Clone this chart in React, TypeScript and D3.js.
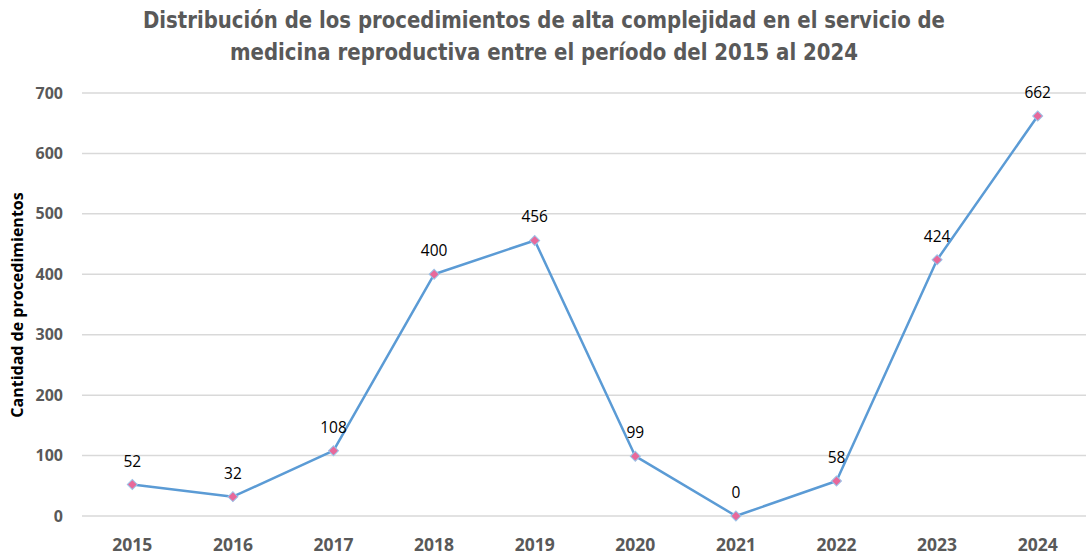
import React from "react";
import * as d3 from "d3";

const years = ["2015", "2016", "2017", "2018", "2019", "2020", "2021", "2022", "2023", "2024"];
const values = [52, 32, 108, 400, 456, 99, 0, 58, 424, 662];
const yTicks = [0, 100, 200, 300, 400, 500, 600, 700];
const titleLines = [
  "Distribución de los procedimientos de alta complejidad en el servicio de",
  "medicina reproductiva entre el período del 2015 al 2024",
];
const yAxisTitle = "Cantidad de procedimientos";

const W = 1086;
const H = 558;
const left = 82;
const right = 1088;
const top = 93;
const bottom = 516;

export default function App() {
  const x = d3.scaleBand<string>().domain(years).range([left, right]);
  const y = d3.scaleLinear().domain([0, 700]).range([bottom, top]);
  const cx = (d: string) => (x(d) as number) + x.bandwidth() / 2;
  const line = d3
    .line<number>()
    .x((_, i) => cx(years[i]))
    .y((v) => y(v));
  const marker = d3.symbol().type(d3.symbolSquare).size(50)();
  const font = "'Liberation Sans Narrow', 'DejaVu Sans Condensed', Arial, sans-serif";
  const font2 = "'Open Sans', 'DejaVu Sans', sans-serif";

  return (
    <svg
      width={W}
      height={H}
      style={{ position: "absolute", left: 0, top: 0, background: "#fff" }}
    >
      <rect width={W} height={H} fill="#fff" />
      {titleLines.map((t, i) => (
        <text
          key={i}
          x={544}
          y={28 + i * 32}
          textAnchor="middle"
          fontFamily={font}
          fontWeight="bold"
          fontSize={23}
          fill="#595959"
          textLength={i === 0 ? 802 : 628}
          lengthAdjust="spacingAndGlyphs"
        >
          {t}
        </text>
      ))}
      {yTicks.map((t) => (
        <g key={t}>
          <line x1={left} x2={W} y1={y(t)} y2={y(t)} stroke="#d9d9d9" strokeWidth={1.5} />
          <text
            x={63}
            y={y(t) + 5.5}
            textAnchor="end"
            fontFamily={font2}
            fontWeight="bold"
            fontSize={16}
            fill="#595959"
          >
            {t}
          </text>
        </g>
      ))}
      {years.map((yr) => (
        <text
          key={yr}
          x={cx(yr)}
          y={551}
          textAnchor="middle"
          fontFamily={font2}
          fontWeight="bold"
          fontSize={17.5}
          fill="#595959"
        >
          {yr}
        </text>
      ))}
      <text
        transform={`translate(23,305) rotate(-90)`}
        textAnchor="middle"
        fontFamily={font2}
        fontWeight="bold"
        fontSize={16}
        fill="#000"
      >
        {yAxisTitle}
      </text>
      <path d={line(values) || ""} fill="none" stroke="#5b9bd5" strokeWidth={2.5} strokeLinejoin="round" />
      {values.map((v, i) => (
        <g key={i}>
          <path
            d={marker || ""}
            transform={`translate(${cx(years[i])},${y(v)}) rotate(45)`}
            fill="#e8689a"
            stroke="#9cc3e8"
            strokeWidth={1}
          />
          <text
            x={cx(years[i])}
            y={y(v) - 18}
            textAnchor="middle"
            fontFamily={font2}
            fontSize={15.5}
            fill="#000"
          >
            {v}
          </text>
        </g>
      ))}
    </svg>
  );
}
